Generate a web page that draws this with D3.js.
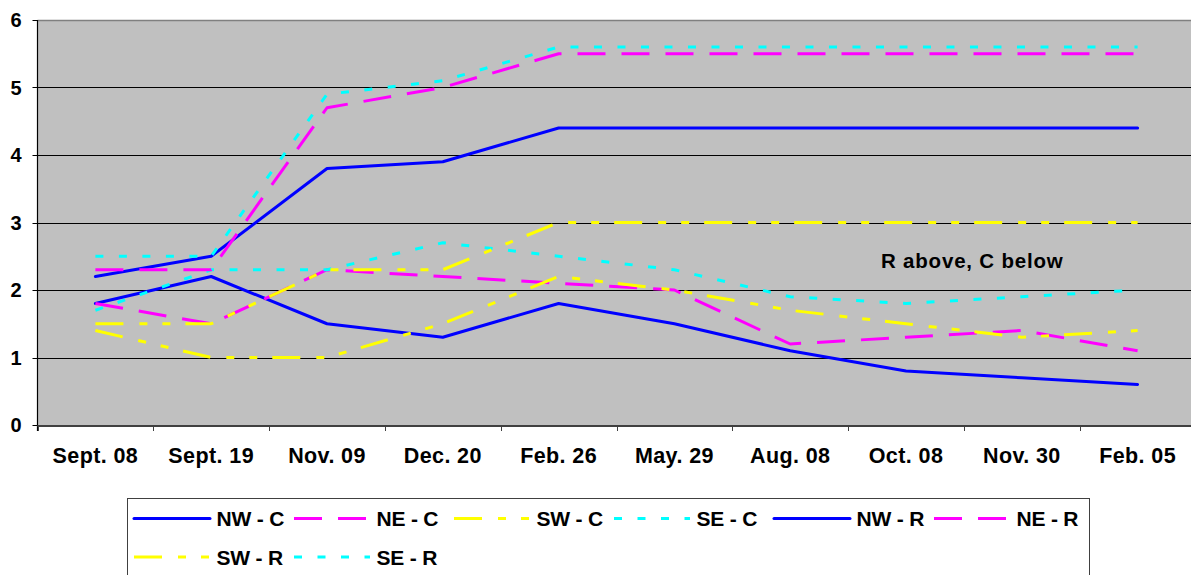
<!DOCTYPE html>
<html>
<head>
<meta charset="utf-8">
<script src="https://cdn.jsdelivr.net/npm/d3@7"></script>
<style>
  html, body { margin: 0; padding: 0; background: #fff; }
  svg { display: block; }
  text { font-family: "Liberation Sans", Arial, sans-serif; font-weight: bold; fill: #000; }
</style>
</head>
<body>
<svg id="chart" width="1191" height="575"></svg>
<script>
// Survey dates along the horizontal axis
const categories = ["Sept. 08", "Sept. 19", "Nov. 09", "Dec. 20", "Feb. 26",
                    "May. 29", "Aug. 08", "Oct. 08", "Nov. 30", "Feb. 05"];

// Y axis tick values
const yTicks = [0, 1, 2, 3, 4, 5, 6];

// Series values per region (C = lower group, R = upper group)
const nwC = [1.8, 2.2, 1.5, 1.3, 1.8, 1.5, 1.1, 0.8, 0.7, 0.6];
const neC = [1.8, 1.5, 2.3, 2.2, 2.1, 2.0, 1.2, 1.3, 1.4, 1.1];
const swC = [1.4, 1.0, 1.0, 1.5, 2.2, 2.0, 1.7, 1.5, 1.3, 1.4];
const seC = [1.7, 2.3, 2.3, 2.7, 2.5, 2.3, 1.9, 1.8, 1.9, 2.0];
const nwR = [2.2, 2.5, 3.8, 3.9, 4.4, 4.4, 4.4, 4.4, 4.4, 4.4];
const neR = [2.3, 2.3, 4.7, 5.0, 5.5, 5.5, 5.5, 5.5, 5.5, 5.5];
const swR = [1.5, 1.5, 2.3, 2.3, 3.0, 3.0, 3.0, 3.0, 3.0, 3.0];
const seR = [2.5, 2.5, 4.9, 5.1, 5.6, 5.6, 5.6, 5.6, 5.6, 5.6];

const seriesNames = ["NW - C", "NE - C", "SW - C", "SE - C", "NW - R", "NE - R", "SW - R", "SE - R"];
const seriesValues = [nwC, neC, swC, seC, nwR, neR, swR, seR];

const annotation = "R above, C below";

// Line styles per region
const styleFor = {
  NW: { color: "#0000FF", dash: null },
  NE: { color: "#FF00FF", dash: "28,16" },
  SW: { color: "#FFFF00", dash: "28,16,8,15,8,15" },
  SE: { color: "#00FFFF", dash: "8,15.5" }
};

const series = seriesNames.map((name, i) => ({
  name,
  values: seriesValues[i],
  style: styleFor[name.slice(0, 2)]
}));

const svg = d3.select("#chart");
const plot = { left: 37.5, right: 1195.5, top: 20, bottom: 425 };

const xBand = d3.scaleBand().domain(categories).range([plot.left, plot.right]).paddingInner(0).paddingOuter(0);
const x = d3.scalePoint().domain(categories).range([plot.left, plot.right]).padding(0.5);
const y = d3.scaleLinear().domain([0, 6]).range([plot.bottom, plot.top]);

// Plot background
svg.append("rect")
  .attr("x", plot.left).attr("y", plot.top)
  .attr("width", plot.right - plot.left).attr("height", plot.bottom - plot.top)
  .attr("fill", "#C0C0C0");

// Horizontal gridlines
svg.append("g")
  .selectAll("line")
  .data(yTicks.filter(d => d > 0 && d < 6))
  .join("line")
  .attr("x1", plot.left).attr("x2", plot.right)
  .attr("y1", d => Math.round(y(d)) + 0.5).attr("y2", d => Math.round(y(d)) + 0.5)
  .attr("stroke", "#000").attr("stroke-width", 1);

// Top border of plot area
svg.append("line")
  .attr("x1", plot.left).attr("x2", plot.right)
  .attr("y1", y(6) + 0.5).attr("y2", y(6) + 0.5)
  .attr("stroke", "#808080").attr("stroke-width", 1.5);

// Y axis
const yAxis = svg.append("g");
yAxis.append("line")
  .attr("x1", plot.left).attr("x2", plot.left)
  .attr("y1", plot.top).attr("y2", plot.bottom + 6)
  .attr("stroke", "#000").attr("stroke-width", 1.2);
yAxis.selectAll("line.tick")
  .data(yTicks)
  .join("line")
  .attr("class", "tick")
  .attr("x1", plot.left - 5).attr("x2", plot.left)
  .attr("y1", d => Math.round(y(d)) + 0.5).attr("y2", d => Math.round(y(d)) + 0.5)
  .attr("stroke", "#000").attr("stroke-width", 1);
yAxis.selectAll("text")
  .data(yTicks)
  .join("text")
  .attr("x", 21.5)
  .attr("y", d => y(d))
  .attr("dy", "0.36em")
  .attr("text-anchor", "end")
  .style("font-size", "20px")
  .text(d => d);

// X axis
const xAxis = svg.append("g");
xAxis.append("line")
  .attr("x1", plot.left).attr("x2", plot.right)
  .attr("y1", plot.bottom + 1).attr("y2", plot.bottom + 1)
  .attr("stroke", "#404040").attr("stroke-width", 2);
const boundaries = categories.map(c => xBand(c)).concat([xBand(categories[categories.length - 1]) + xBand.bandwidth()]);
xAxis.selectAll("line.tick")
  .data(boundaries)
  .join("line")
  .attr("class", "tick")
  .attr("x1", d => Math.round(d) + 0.5).attr("x2", d => Math.round(d) + 0.5)
  .attr("y1", plot.bottom).attr("y2", plot.bottom + 6)
  .attr("stroke", "#404040").attr("stroke-width", 1);
xAxis.selectAll("text")
  .data(categories)
  .join("text")
  .attr("x", d => x(d))
  .attr("y", 463)
  .attr("text-anchor", "middle")
  .style("font-size", "21.5px")
  .style("letter-spacing", "0.4px")
  .text(d => d);

// Series lines
const line = d3.line()
  .x((d, i) => x(categories[i]))
  .y(d => y(d));

svg.append("g")
  .selectAll("path")
  .data(series)
  .join("path")
  .attr("d", d => line(d.values))
  .attr("fill", "none")
  .attr("stroke", d => d.style.color)
  .attr("stroke-width", 3)
  .attr("stroke-linejoin", "round")
  .attr("stroke-linecap", d => d.style.dash ? "butt" : "round")
  .attr("stroke-dasharray", d => d.style.dash);

// Annotation inside plot
svg.append("text")
  .attr("x", 881)
  .attr("y", 267.5)
  .style("font-size", "20.5px")
  .style("letter-spacing", "0.8px")
  .text(annotation);

// Legend
const legend = svg.append("g");
legend.append("rect")
  .attr("x", 127.5).attr("y", 498.5)
  .attr("width", 962).attr("height", 120)
  .attr("fill", "#fff")
  .attr("stroke", "#404040").attr("stroke-width", 1);

const perRow = 6;
const item = legend.selectAll("g.item")
  .data(series)
  .join("g")
  .attr("class", "item")
  .attr("transform", (d, i) => `translate(${134 + (i % perRow) * 160},${518.5 + Math.floor(i / perRow) * 38.5})`);
item.append("line")
  .attr("x1", 0).attr("x2", 76)
  .attr("y1", 0).attr("y2", 0)
  .attr("stroke", d => d.style.color)
  .attr("stroke-width", 3)
  .attr("stroke-linecap", d => d.style.dash ? "butt" : "round")
  .attr("stroke-dasharray", d => d.style.dash);
item.append("text")
  .attr("x", 82.5)
  .attr("y", 0)
  .attr("dy", "0.36em")
  .style("font-size", "21px")
  .style("letter-spacing", "-0.2px")
  .text(d => d.name);
</script>
</body>
</html>
